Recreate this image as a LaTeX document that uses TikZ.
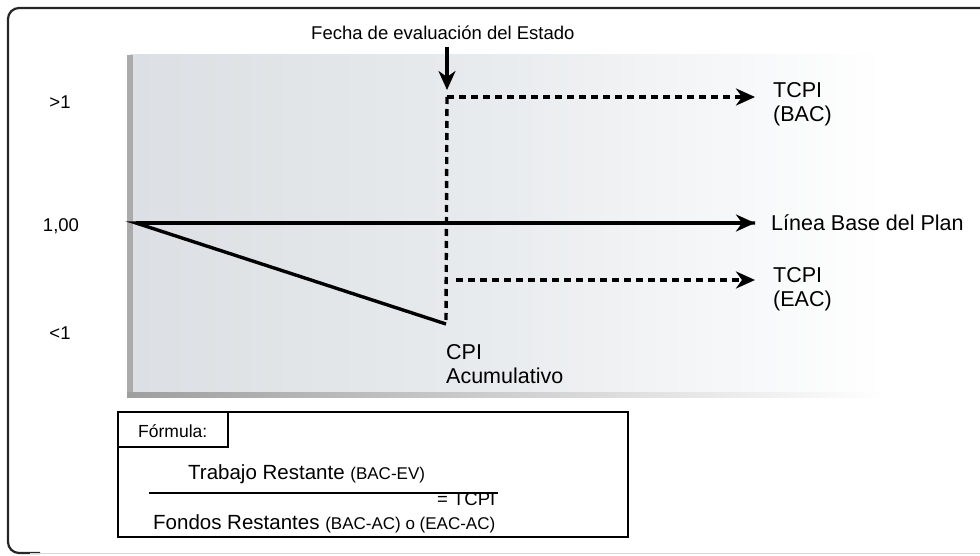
\documentclass[tikz,border=0pt]{standalone}
\usepackage{fontspec}
\setmainfont{Liberation Sans}
\usetikzlibrary{arrows.meta}
\definecolor{panelL}{RGB}{220,223,227}
\definecolor{panelM}{RGB}{233,236,238}
\begin{document}
\begin{tikzpicture}[x=1pt,y=-1pt,
  lbl/.style={inner sep=0pt, font=\fontsize{21.5}{24}\selectfont, align=left},
  axlbl/.style={inner sep=0pt, font=\fontsize{18.5}{22}\selectfont},
  frm/.style={inner sep=0pt, font=\fontsize{20.5}{23}\selectfont},
  solidarrow/.style={line width=3.4pt, -{Stealth[length=19pt,width=17pt,inset=6pt]}},
  dasharrow/.style={line width=3.4pt, dash pattern=on 7pt off 5pt, -{Stealth[length=19pt,width=17pt,inset=6pt]}},
  dashline/.style={line width=3.4pt, dash pattern=on 7pt off 5pt}]
\useasboundingbox (0,0) rectangle (980,556);
% outer frame
\draw[black!85, line width=2.2pt, rounded corners=11pt] (1000,8) -- (8,8) -- (8,553) -- (40,553);
\draw[black!15, line width=1.5pt] (30,553.5) -- (1000,553.5);
% panel
\shade[left color=panelL, right color=white, middle color=panelM] (130,55) rectangle (885,395);
\fill[black!33] (127,55) rectangle (133,397);
\shade[left color=black!38, right color=white] (127,392) rectangle (885,397);
% coordinates
\coordinate (O) at (136,223);
\coordinate (C) at (446,324);
\coordinate (Vtop) at (447,97);
\coordinate (BACend) at (755,97);
\coordinate (BLend) at (755,223);
\coordinate (EACstart) at (456,280);
\coordinate (EACend) at (755,280);
\coordinate (Darr) at (447,47);
\coordinate (Darrend) at (447,90);
% lines
\draw[line width=3.4pt, line join=miter] (BLend) -- (O) -- (C);
\draw[solidarrow] (O) -- (BLend);
\draw[dashline] (Vtop) -- (C);
\draw[dasharrow] (Vtop) -- (BACend);
\draw[dasharrow] (EACstart) -- (EACend);
\draw[solidarrow] (Darr) -- (Darrend);
% labels
\node[axlbl, anchor=base west] (fecha) at (311,40) {Fecha de evaluación del Estado};
\node[axlbl] (gt) at (60,102) {>1};
\node[axlbl] (one) at (61,226) {1,00};
\node[axlbl] (lt) at (60,333) {<1};
\node[lbl, anchor=base west] (tbac) at (773,122) {TCPI\\(BAC)};
\node[lbl, anchor=base west] (lb) at (771,231) {Línea Base del Plan};
\node[lbl, anchor=base west] (teac) at (773,306) {TCPI\\(EAC)};
\node[lbl, anchor=base west] (cpi) at (446,383) {CPI\\Acumulativo};
% formula box
\draw[line width=1.2pt] (118,412) rectangle (628,537);
\draw[line width=1.2pt] (118,412) rectangle (228,447);
\node[inner sep=0pt, font=\fontsize{17.5}{20}\selectfont, anchor=base west] (flbl) at (138,437) {Fórmula:};
\node[frm, anchor=base west] (num) at (188,479) {Trabajo Restante {\fontsize{17}{19}\selectfont(BAC-EV)}};
\node[frm, anchor=base west] (den) at (153,529) {Fondos Restantes {\fontsize{17}{19}\selectfont(BAC-AC) o (EAC-AC)}};
\node[inner sep=0pt, font=\fontsize{18.5}{21}\selectfont, anchor=base west] (tcpi) at (437,505) {= TCPI};
\coordinate (fl1) at (149,493);
\coordinate (fl2) at (498,493);
\draw[line width=1.5pt] (fl1) -- (fl2);
\end{tikzpicture}
\end{document}
